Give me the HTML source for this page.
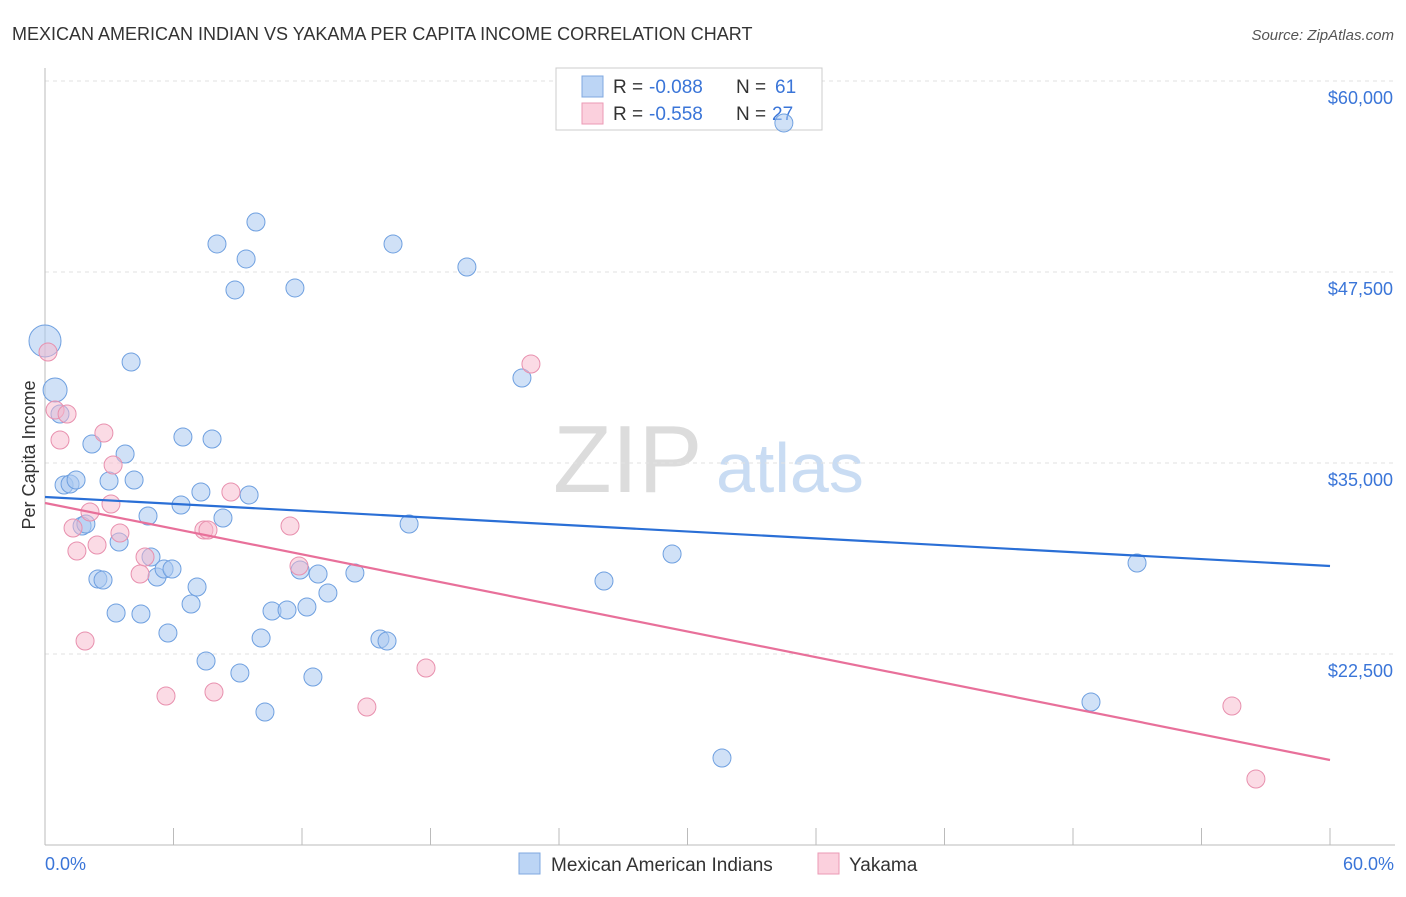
<!DOCTYPE html>
<html><head><meta charset="utf-8"><style>
body{margin:0;background:#fff;font-family:"Liberation Sans",sans-serif;}
svg text{font-family:"Liberation Sans",sans-serif;}
</style></head><body>
<svg id="chart" width="1406" height="892" viewBox="0 0 1406 892">
<text x="12" y="40" font-size="18" fill="#333">MEXICAN AMERICAN INDIAN VS YAKAMA PER CAPITA INCOME CORRELATION CHART</text>
<text x="1394" y="40" font-size="15" fill="#555" text-anchor="end" font-style="italic">Source: ZipAtlas.com</text>
<g>
<text x="553" y="492" font-size="96" fill="#dcdcdc" font-family="Liberation Serif">ZIP</text>
<text x="716" y="492" font-size="70" fill="#c9dcf3">atlas</text>
</g>
<g id="grid"></g>
<g id="axes"></g>
<g>
<rect x="556" y="68" width="266" height="62" fill="#fff" stroke="#ccc"/>
<rect x="582" y="76" width="21" height="21" fill="#bcd5f5" stroke="#7fa8e0"/>
<rect x="582" y="103" width="21" height="21" fill="#fbd0dd" stroke="#eb9ab5"/>
<text x="613" y="93" font-size="19" fill="#333">R =</text>
<text x="649" y="93" font-size="19" fill="#3a75d8">-0.088</text>
<text x="736" y="93" font-size="19" fill="#333">N =</text>
<text x="775" y="93" font-size="19" fill="#3a75d8">61</text>
<text x="613" y="120" font-size="19" fill="#333">R =</text>
<text x="649" y="120" font-size="19" fill="#3a75d8">-0.558</text>
<text x="736" y="120" font-size="19" fill="#333">N =</text>
<text x="772" y="120" font-size="19" fill="#3a75d8">27</text>
</g>
<g id="marks"></g>
<g id="trends"></g>
<text x="35" y="455" font-size="18" fill="#333" text-anchor="middle" transform="rotate(-90 35 455)">Per Capita Income</text>
<text x="45" y="870" font-size="18" fill="#3a75d8">0.0%</text>
<text x="1394" y="870" font-size="18" fill="#3a75d8" text-anchor="end">60.0%</text>
<g>
<rect x="519" y="853" width="21" height="21" fill="#bcd5f5" stroke="#7fa8e0"/>
<text x="551" y="871" font-size="19" fill="#333">Mexican American Indians</text>
<rect x="818" y="853" width="21" height="21" fill="#fbd0dd" stroke="#eb9ab5"/>
<text x="849" y="871" font-size="19" fill="#333">Yakama</text>
</g>
</svg>
<script>
const yTicks=[22500,35000,47500,60000];
const yTickLabels=["$22,500","$35,000","$47,500","$60,000"];
const xTicks=[0,6,12,18,24,30,36,42,48,54,60];
const blueX=[0,0.47,0.7,2.19,3.74,4.02,0.89,1.17,1.45,2.99,4.16,1.73,1.91,2.47,2.71,3.46,4.81,4.95,5.23,5.56,5.93,3.32,4.48,5.74,6.44,7.8,6.35,7.28,8.31,9.53,6.82,7.1,7.52,9.1,10.09,10.27,10.6,11.3,12.23,11.91,12.75,13.21,12.51,14.47,8.03,9.39,8.87,9.85,11.67,16.25,19.7,15.64,15.97,17.0,22.27,26.1,29.28,31.61,48.84,50.99,34.5];
const blueY=[42986,39779,38208,36245,35590,41611,33561,33627,33888,33823,33888,30878,31009,27409,27343,29830,31532,28849,27540,28063,28063,25183,25118,23874,36703,36572,32252,33103,31401,32907,25773,26885,22042,21256,23547,18704,25314,25380,25576,27998,27736,26492,20995,27801,49335,48353,46324,50774,46455,49335,47829,23482,23351,31009,40564,27278,29045,15693,19358,28456,57254];
const blueSize=[16,12,9,9,9,9,9,9,9,9,9,9,9,9,9,9,9,9,9,9,9,9,9,9,9,9,9,9,9,9,9,9,9,9,9,9,9,9,9,9,9,9,9,9,9,9,9,9,9,9,9,9,9,9,9,9,9,9,9,9,9];
const pinkX=[0.14,0.47,1.03,0.7,2.75,3.18,1.31,2.1,3.08,3.5,2.43,1.49,4.67,4.44,1.87,5.65,7.89,7.42,7.61,8.68,11.44,11.86,15.03,17.79,22.69,55.42,56.54];
const pinkY=[42266,38470,38208,36506,36964,34870,30747,31794,32318,30419,29634,29241,28849,27736,23351,19751,20013,30616,30616,33103,30878,28260,19031,21584,41481,19097,14319];
const blueTrend=[32776,28260];
const pinkTrend=[32383,15562];
const trendX=[0,60];
const NS="http://www.w3.org/2000/svg";
const X=p=>45+p*1285/60;
const Y=v=>654-(v-22500)*191/12500;
function mk(tag,attrs,parent){const e=document.createElementNS(NS,tag);for(const k in attrs)e.setAttribute(k,attrs[k]);parent.appendChild(e);return e;}
const grid=document.getElementById('grid'),axes=document.getElementById('axes'),marks=document.getElementById('marks'),trends=document.getElementById('trends');
yTicks.forEach((t,i)=>{
 const l=mk('line',{x1:45,x2:1395,y1:Y(t),y2:Y(t),stroke:'#e2e2e2','stroke-dasharray':'4,4'},grid);
 
 
 const tx=mk('text',{x:1393,y:Y(t)+23,'font-size':18,fill:'#3a75d8','text-anchor':'end'},axes);
 tx.textContent=yTickLabels[i];
 
 
});
const al=mk('line',{x1:45,x2:45,y1:68,y2:845,stroke:'#bbb'},axes);


const bl=mk('line',{x1:45,x2:1395,y1:845,y2:845,stroke:'#bbb'},axes);


xTicks.forEach(t=>{
 const l=mk('line',{x1:X(t),x2:X(t),y1:828,y2:845,stroke:'#bbb'},axes);
 
 
});
blueX.forEach((x,i)=>{
 const c=mk('circle',{cx:X(x),cy:Y(blueY[i]),r:blueSize[i],fill:'rgba(169,200,240,0.55)',stroke:'#6fa0e0','stroke-width':1},marks);
 
 
});
pinkX.forEach((x,i)=>{
 const c=mk('circle',{cx:X(x),cy:Y(pinkY[i]),r:9,fill:'rgba(247,184,204,0.5)',stroke:'#e890ae','stroke-width':1},marks);
 
 
});
const tb=mk('line',{x1:X(trendX[0]),x2:X(trendX[1]),y1:Y(blueTrend[0]),y2:Y(blueTrend[1]),stroke:'#2a6fd6','stroke-width':2.2},trends);


const tp=mk('line',{x1:X(trendX[0]),x2:X(trendX[1]),y1:Y(pinkTrend[0]),y2:Y(pinkTrend[1]),stroke:'#e8709a','stroke-width':2.2},trends);


</script>
</body></html>
